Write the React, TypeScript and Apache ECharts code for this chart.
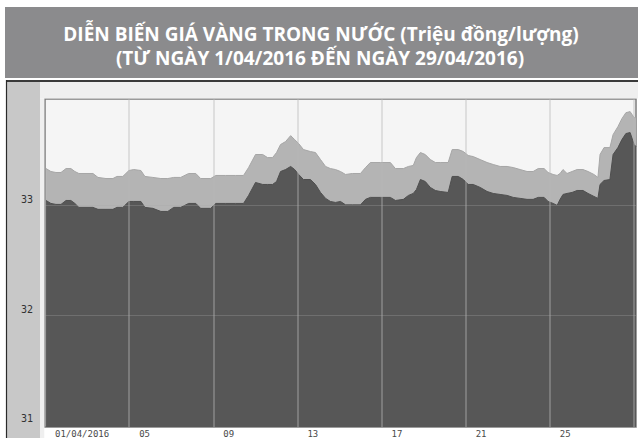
import React, { useEffect, useRef } from "react";
import * as echarts from "echarts";

// Day offset from 01/04/2016 (0 = 1 April)
const days = [0.05,0.28,0.52,0.76,1.00,1.23,1.42,1.61,1.95,2.28,2.52,2.90,3.23,3.42,3.70,3.99,4.22,4.56,4.75,5.13,5.51,5.84,6.12,6.45,6.83,7.17,7.40,7.88,8.12,8.59,9.06,9.44,9.68,10.01,10.35,10.58,10.82,11.01,11.20,11.44,11.68,11.87,12.06,12.29,12.62,12.86,13.10,13.34,13.57,13.81,14.05,14.29,14.62,15.00,15.24,15.47,15.95,16.42,16.66,17.04,17.28,17.51,17.66,17.85,18.08,18.32,18.56,18.79,19.17,19.36,19.65,19.89,20.12,20.36,20.69,21.02,21.31,21.64,21.97,22.26,22.59,22.92,23.21,23.45,23.73,23.92,24.16,24.35,24.49,24.63,24.82,25.06,25.30,25.58,25.82,26.10,26.29,26.39,26.58,26.86,27.01,27.24,27.43,27.62,27.82,28.01,28.10];

// Selling price (upper, light area), million VND / tael
const sellPrice = [33.336,33.309,33.300,33.300,33.336,33.336,33.309,33.291,33.291,33.291,33.255,33.245,33.245,33.264,33.264,33.318,33.327,33.318,33.264,33.255,33.245,33.245,33.255,33.255,33.291,33.291,33.245,33.245,33.273,33.273,33.273,33.273,33.345,33.464,33.464,33.436,33.436,33.482,33.555,33.582,33.636,33.600,33.564,33.509,33.491,33.482,33.418,33.355,33.336,33.327,33.309,33.282,33.291,33.291,33.345,33.391,33.391,33.391,33.336,33.336,33.355,33.364,33.436,33.482,33.464,33.418,33.391,33.391,33.391,33.509,33.509,33.491,33.455,33.445,33.418,33.391,33.373,33.355,33.355,33.345,33.327,33.309,33.309,33.336,33.336,33.300,33.282,33.273,33.291,33.327,33.291,33.309,33.327,33.327,33.309,33.282,33.255,33.464,33.527,33.527,33.645,33.718,33.791,33.845,33.855,33.800,33.800];

// Buying price (lower, dark area)
const buyPrice = [33.045,33.018,33.009,33.009,33.045,33.045,33.018,32.982,32.982,32.982,32.964,32.964,32.964,32.982,32.982,33.036,33.036,33.036,32.982,32.973,32.945,32.945,32.982,32.982,33.018,33.018,32.973,32.973,33.018,33.018,33.018,33.018,33.091,33.209,33.191,33.191,33.191,33.218,33.309,33.327,33.355,33.327,33.282,33.236,33.236,33.191,33.118,33.064,33.036,33.027,33.036,33.005,33.005,33.005,33.055,33.073,33.073,33.073,33.045,33.055,33.091,33.109,33.145,33.236,33.218,33.164,33.136,33.127,33.118,33.264,33.264,33.236,33.191,33.191,33.164,33.127,33.109,33.100,33.091,33.073,33.064,33.055,33.055,33.073,33.073,33.036,33.018,33.000,33.055,33.100,33.109,33.118,33.136,33.136,33.109,33.082,33.064,33.191,33.227,33.236,33.464,33.527,33.600,33.655,33.664,33.555,33.536];

const xTickLabels = ["01/04/2016", "05", "09", "13", "17", "21", "25"];
const xGridDays = [4, 8, 12, 16, 20, 24, 28];
const yTickValues = [31, 32, 33];
const yGridValues = [32, 33];

const titleLine1 = "DIỄN BIẾN GIÁ VÀNG TRONG NƯỚC (Triệu đồng/lượng)";
const titleLine2 = "(TỪ NGÀY 1/04/2016 ĐẾN NGÀY 29/04/2016)";

export default function App() {
  const ref = useRef<HTMLDivElement>(null);
  useEffect(() => {
    if (!ref.current) return;
    const chart = echarts.init(ref.current, null, { renderer: "svg" });
    const frameElements: any[] = [
      { type: "rect", id: "topStrip", z: 1, shape: { x: 40, y: 82, width: 598, height: 16.5 }, style: { fill: "#efefef" } },
      { type: "rect", id: "gapStrip", z: 1, shape: { x: 40, y: 98.5, width: 4.25, height: 339.5 }, style: { fill: "#efefef" } },
      { type: "rect", id: "leftPanel", z: 1, shape: { x: 7, y: 82, width: 33, height: 356 }, style: { fill: "#c8c8c8" } },
      { type: "line", id: "frameTop", z: 1, shape: { x1: 6, y1: 81, x2: 638, y2: 81 }, style: { stroke: "#3a3a3a", lineWidth: 2 } },
      { type: "line", id: "frameLeft", z: 1, shape: { x1: 6.5, y1: 80, x2: 6.5, y2: 438 }, style: { stroke: "#2a2a2a", lineWidth: 1.2 } },
      { type: "rect", id: "titleBar", z: 1, shape: { x: 5, y: 7, width: 633, height: 71 }, style: { fill: "#8b8b8d" } },
      { type: "text", id: "title1", z: 2, style: { text: titleLine1, x: 321, y: 34, textAlign: "center", textVerticalAlign: "middle", fill: "#ffffff", font: 'bold 19px "Open Sans"' } },
      { type: "text", id: "title2", z: 2, style: { text: titleLine2, x: 320, y: 58, textAlign: "center", textVerticalAlign: "middle", fill: "#ffffff", font: 'bold 19px "Open Sans"' } },
    ];
    const option: any = {
      animation: false,
      backgroundColor: "#ffffff",
      graphic: { elements: frameElements },
      grid: {
        left: 45, top: 99, width: 591, height: 329,
        show: true, backgroundColor: "#f5f5f5", borderColor: "#7c7c7c", borderWidth: 1.5,
      },
      xAxis: {
        type: "value", min: 0, max: 28.1, interval: 4,
        axisLine: { show: false }, axisTick: { show: false }, splitLine: { show: false },
        axisLabel: {
          show: true, margin: 2, align: "left", padding: [0, 0, 0, 10],
          color: "#4a4a4a", fontSize: 9, fontFamily: "DejaVu Sans Mono",
          showMaxLabel: false,
          formatter: (v: number) => xTickLabels[Math.round(v / 4)] ?? "",
        },
      },
      yAxis: {
        type: "value", min: 30.98, max: 33.97,
        axisLine: { show: false }, axisTick: { show: false }, splitLine: { show: false },
        axisLabel: { show: false },
      },
      series: [
        {
          type: "line", name: "Bán", showSymbol: false, z: 2,
          data: days.map((d, i) => [d, sellPrice[i]]),
          lineStyle: { width: 1, color: "#a6a6a6" },
          areaStyle: { color: "#b4b4b4", opacity: 1, origin: "start" },
        },
        {
          type: "line", name: "Mua", showSymbol: false, z: 3,
          data: days.map((d, i) => [d, buyPrice[i]]),
          lineStyle: { width: 1, color: "#4f4f4f" },
          areaStyle: { color: "#575757", opacity: 1, origin: "start" },
        },
        {
          type: "line", name: "grid", z: 5, data: [], silent: true,
          markLine: {
            silent: true, symbol: "none", label: { show: false },
            data: [
              ...xGridDays.map((d) => ({ xAxis: d, lineStyle: { color: "rgba(185,185,185,0.5)", width: 1.5, type: "solid" } })),
              ...yGridValues.map((v) => ({ yAxis: v, lineStyle: { color: "rgba(170,170,170,0.3)", width: 1, type: "solid" } })),
            ],
          },
        },
      ],
    };
    chart.setOption(option);
    // y tick labels placed through the axis scale, drawn above the left panel
    const yLabelElements = yTickValues.map((v) => {
      const py = chart.convertToPixel({ yAxisIndex: 0 }, v) as number;
      return {
        type: "text", id: "ylab" + v, z: 3,
        style: { text: String(v), x: 33, y: py - 1, textAlign: "right", textVerticalAlign: "bottom", fill: "#333333", font: '10px "DejaVu Sans Mono"' },
      };
    });
    chart.setOption({ graphic: { elements: [...frameElements, ...yLabelElements] } });
    return () => chart.dispose();
  }, []);
  return <div ref={ref} style={{ width: 638, height: 438, position: "absolute", left: 0, top: 0 }} />;
}
